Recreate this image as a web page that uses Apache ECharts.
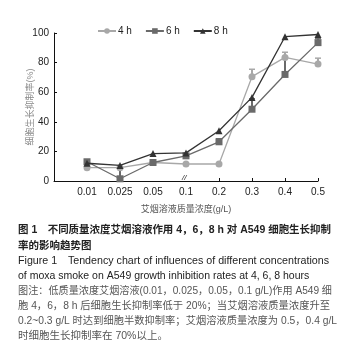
<!DOCTYPE html>
<html>
<head>
<meta charset="utf-8">
<script src="https://cdn.jsdelivr.net/npm/echarts@6/dist/echarts.min.js"></script>
<style>
  html, body { margin: 0; padding: 0; background: #fff; }
  #main { width: 349px; height: 352px; }
</style>
</head>
<body>
<div id="main"></div>
<script>
// concentrations (g/L); first slot is an empty lead-in position
const categories = ['', '0.01', '0.025', '0.05', '0.1', '0.2', '0.3', '0.4', '0.5'];
const yTicks = [0, 20, 40, 60, 80, 100];

// inhibition rate (%)
const h4 = [9, 9, 12.5, 11.5, 11.5, 70.5, 83.5, 79];
const h6 = [13, 1.5, 12.5, 17, 26.5, 48.5, 72, 93.5];
const h8 = [12, 10.5, 18.5, 19, 34, 56.5, 97.5, 99];

// upper error bars
const e4 = [0, 0, 0, 0, 0, 5, 3.5, 4];
const e6 = [0, 7, 0, 0, 2, 7, 11, 3];
const e8 = [0, 0, 0, 0, 0, 0, 0, 0];

const mixed = '"Liberation Sans", "Noto Sans CJK SC", sans-serif';
const latin = '"Liberation Sans", Arial, sans-serif';

// caption text; justified lines are stretched to the column edge
const captionLines = [
  {t: '图 1　不同质量浓度艾烟溶液作用 4，6，8 h 对 A549 细胞生长抑制', y: 230, c: '#222', w: 'bold', end: 331},
  {t: '率的影响趋势图', y: 246, c: '#222', w: 'bold'},
  {t: 'Figure 1　Tendency chart of influences of different concentrations', y: 261, c: '#222', w: 'normal', end: 329},
  {t: 'of moxa smoke on A549 growth inhibition rates at 4, 6, 8 hours', y: 276, c: '#222', w: 'normal'},
  {t: '图注：低质量浓度艾烟溶液(0.01，0.025，0.05，0.1 g/L)作用 A549 细', y: 291, c: '#555', w: 'normal', end: 332},
  {t: '胞 4，6，8 h 后细胞生长抑制率低于 20%；当艾烟溶液质量浓度升至', y: 306, c: '#555', w: 'normal', end: 330},
  {t: '0.2~0.3 g/L 时达到细胞半数抑制率；艾烟溶液质量浓度为 0.5，0.4 g/L', y: 321, c: '#555', w: 'normal', end: 337},
  {t: '时细胞生长抑制率在 70%以上。', y: 336, c: '#555', w: 'normal'}
];
const capX = 18;
const capSize = 10.5;

const measureCtx = document.createElement('canvas').getContext('2d');
function captionItem(l) {
  const font = l.w + ' ' + capSize + 'px ' + mixed;
  measureCtx.font = font;
  const w = measureCtx.measureText(l.t).width;
  const sx = l.end ? (l.end - capX) / w : 1;
  return {
    type: 'text', x: capX, y: l.y, scaleX: sx,
    style: {text: l.t, font: font, fill: l.c, verticalAlign: 'middle'}
  };
}

function toPairs(arr) {
  return arr.map((v, i) => [i + 1, v]);
}

function errSeries(vals, errs, color) {
  return {
    type: 'custom',
    silent: true,
    z: 1,
    data: vals.map((v, i) => [i + 1, v, v + errs[i]]).filter((d, i) => errs[i] > 0),
    renderItem(params, api) {
      const p0 = api.coord([api.value(0), api.value(1)]);
      const p1 = api.coord([api.value(0), api.value(2)]);
      return {
        type: 'group',
        children: [
          {type: 'line', shape: {x1: p0[0], y1: p0[1], x2: p1[0], y2: p1[1]},
           style: {stroke: color, lineWidth: 2}},
          {type: 'line', shape: {x1: p1[0] - 3, y1: p1[1], x2: p1[0] + 3, y2: p1[1]},
           style: {stroke: color, lineWidth: 1.5}}
        ]
      };
    }
  };
}

const chart = echarts.init(document.getElementById('main'));
chart.setOption({
  animation: false,
  backgroundColor: '#fff',
  grid: {left: 54, right: 31, top: 33, bottom: 171},
  legend: {
    top: 21,
    left: 92,
    itemWidth: 18,
    itemHeight: 7,
    itemGap: 13,
    textStyle: {fontFamily: latin, fontSize: 10, color: '#222', padding: [0, 0, 0, -3]},
    data: ['4 h', '6 h', '8 h']
  },
  xAxis: {
    type: 'category',
    data: categories,
    boundaryGap: false,
    axisLine: {lineStyle: {color: '#111', width: 1}},
    axisTick: {
      inside: true, length: 3,
      interval: (i) => i >= 5,
      lineStyle: {color: '#111'}
    },
    axisLabel: {fontFamily: latin, fontSize: 10, color: '#222', margin: 6, interval: 0},
    name: '艾烟溶液质量浓度(g/L)',
    nameLocation: 'middle',
    nameGap: 24,
    nameMoveOverlap: false,
    nameTextStyle: {fontFamily: mixed, fontSize: 9, color: '#555'}
  },
  yAxis: {
    type: 'value',
    min: yTicks[0],
    max: yTicks[yTicks.length - 1],
    interval: 20,
    splitLine: {show: false},
    axisLine: {show: true, lineStyle: {color: '#111', width: 1}},
    axisTick: {show: true, inside: true, length: 3, lineStyle: {color: '#111'}},
    axisLabel: {fontFamily: latin, fontSize: 10, color: '#222', margin: 5},
    name: '细胞生长抑制率(%)',
    nameLocation: 'middle',
    nameGap: 19,
    nameMoveOverlap: false,
    nameRotate: 90,
    nameTextStyle: {fontFamily: mixed, fontSize: 9, color: '#888'}
  },
  series: [
    errSeries(h4, e4, '#a8a8a8'),
    errSeries(h6, e6, '#6a6a6a'),
    errSeries(h8, e8, '#333'),
    {
      name: '4 h', type: 'line', data: toPairs(h4), z: 2,
      symbol: 'circle', symbolSize: 7,
      itemStyle: {color: '#a8a8a8'},
      lineStyle: {color: '#a8a8a8', width: 1.3}
    },
    {
      name: '6 h', type: 'line', data: toPairs(h6), z: 3,
      symbol: 'rect', symbolSize: 7,
      itemStyle: {color: '#6a6a6a'},
      lineStyle: {color: '#6a6a6a', width: 1.3}
    },
    {
      name: '8 h', type: 'line', data: toPairs(h8), z: 4,
      symbol: 'triangle', symbolSize: 7,
      itemStyle: {color: '#333'},
      lineStyle: {color: '#333', width: 1.3}
    }
  ],
  graphic: [
    {type: 'text', left: 182, top: 174,
     style: {text: '//', font: 'italic 8px ' + latin, fill: '#222'}}
  ].concat(captionLines.map(captionItem))
});
</script>
</body>
</html>
